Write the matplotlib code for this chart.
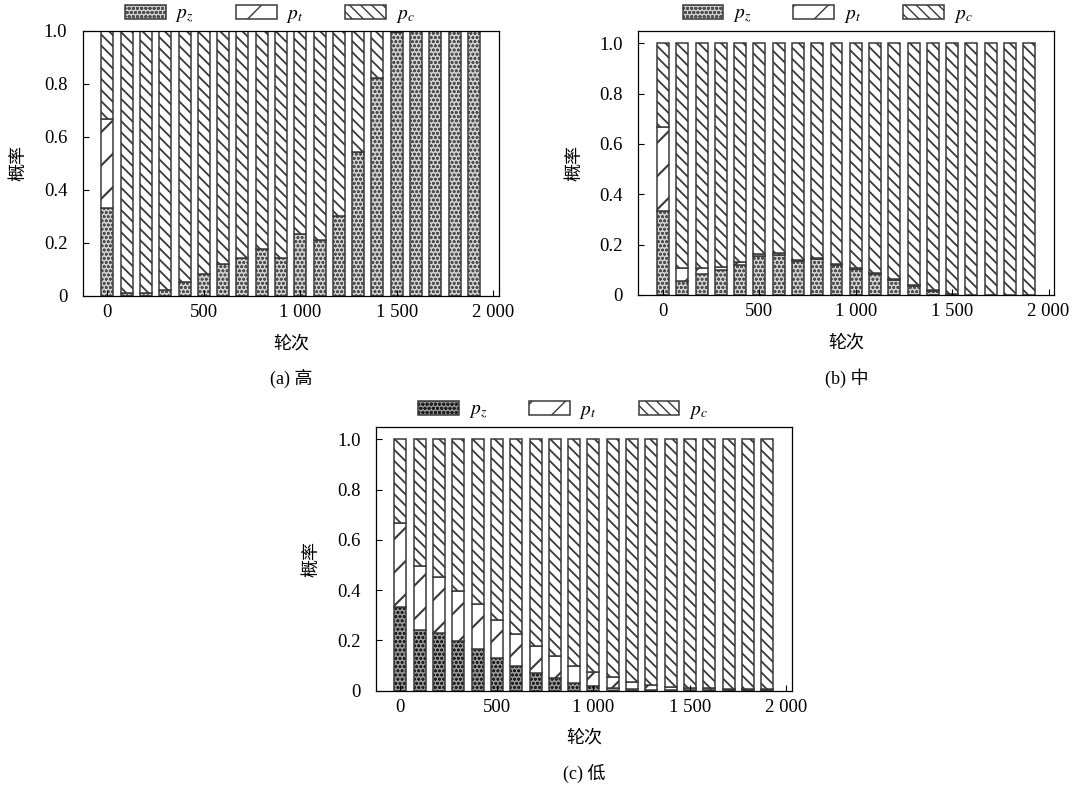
import matplotlib
matplotlib.use("Agg")
import matplotlib.pyplot as plt

# ── Data ──────────────────────────────────────────────────────────────────────
ROUNDS = [0, 100, 200, 300, 400, 500, 600, 700, 800, 900,
          1000, 1100, 1200, 1300, 1400, 1500, 1600, 1700, 1800, 1900]
X_TICKS = [0, 500, 1000, 1500, 2000]
X_TICK_LABELS = ["0", "500", "1 000", "1 500", "2 000"]
Y_TICKS = [0, 0.2, 0.4, 0.6, 0.8, 1.0]
Y_TICK_LABELS = ["0", "0.2", "0.4", "0.6", "0.8", "1.0"]

# (a) 高
PZ_HIGH = [0.333, 0.010, 0.010, 0.022, 0.054, 0.084, 0.120, 0.144, 0.178, 0.144,
           0.234, 0.212, 0.303, 0.543, 0.822, 0.995, 1.000, 1.000, 1.000, 1.000]
PT_HIGH = [0.334, 0.000, 0.000, 0.000, 0.000, 0.000, 0.000, 0.000, 0.000, 0.000,
           0.000, 0.000, 0.000, 0.000, 0.000, 0.000, 0.000, 0.000, 0.000, 0.000]
PC_HIGH = [0.333, 0.990, 0.990, 0.978, 0.946, 0.916, 0.880, 0.856, 0.822, 0.856,
           0.766, 0.788, 0.697, 0.457, 0.178, 0.005, 0.000, 0.000, 0.000, 0.000]

# (b) 中
PZ_MID = [0.333, 0.057, 0.082, 0.100, 0.120, 0.155, 0.160, 0.135, 0.143, 0.118,
          0.104, 0.082, 0.058, 0.036, 0.016, 0.003, 0.000, 0.000, 0.000, 0.000]
PT_MID = [0.334, 0.049, 0.024, 0.010, 0.010, 0.008, 0.005, 0.005, 0.005, 0.004,
          0.004, 0.004, 0.004, 0.004, 0.002, 0.001, 0.000, 0.000, 0.000, 0.000]
PC_MID = [0.333, 0.894, 0.894, 0.890, 0.870, 0.837, 0.835, 0.860, 0.852, 0.878,
          0.892, 0.914, 0.938, 0.960, 0.982, 0.996, 1.000, 1.000, 1.000, 1.000]

# (c) 低
PZ_LOW = [0.333, 0.243, 0.228, 0.196, 0.166, 0.130, 0.097, 0.070, 0.049, 0.032,
          0.020, 0.011, 0.006, 0.004, 0.003, 0.002, 0.002, 0.001, 0.001, 0.001]
PT_LOW = [0.334, 0.252, 0.226, 0.200, 0.179, 0.153, 0.130, 0.107, 0.089, 0.068,
          0.053, 0.042, 0.027, 0.019, 0.013, 0.010, 0.008, 0.007, 0.007, 0.006]
PC_LOW = [0.333, 0.505, 0.546, 0.604, 0.655, 0.717, 0.773, 0.823, 0.862, 0.900,
          0.927, 0.947, 0.967, 0.977, 0.984, 0.988, 0.990, 0.992, 0.992, 0.993]

# ── Style ─────────────────────────────────────────────────────────────────────
plt.rcParams["font.family"] = ["Liberation Serif", "Noto Sans CJK SC"]
plt.rcParams["mathtext.fontset"] = "stix"

EDGE = "#3a3a3a"
BAR_W = 62
BAR_LW = 1.1


def stacked_layer(ax, values, bottom, face, hatch, hatch_color, hatch_lw, label):
    # hatched fill first (hatch takes the patch edge colour), then a dark outline
    with plt.rc_context({"hatch.linewidth": hatch_lw}):
        fill = ax.bar(ROUNDS, values, width=BAR_W, bottom=bottom, color=face,
                      edgecolor=hatch_color, linewidth=0, hatch=hatch)
    outline = ax.bar(ROUNDS, values, width=BAR_W, bottom=bottom, fill=False,
                     edgecolor=EDGE, linewidth=BAR_LW, label=label)
    return (fill, outline)


def draw_panel(fig, rect, pz, pt, pc, ymax, dots, legend_x, caption, cap_y):
    ax = fig.add_axes(rect)
    bottom_pc = [a + b for a, b in zip(pz, pt)]
    dot_face, dot_color = dots

    h_z = stacked_layer(ax, pz, None, dot_face, "oooo", dot_color, 0.8, r"$p_z$")
    h_t = stacked_layer(ax, pt, pz, "white", "/", EDGE, 1.5, r"$p_t$")
    h_c = stacked_layer(ax, pc, bottom_pc, "white", "\\\\\\", EDGE, 1.3, r"$p_c$")

    ax.set_xlim(-128, 2030)
    ax.set_ylim(0, ymax)
    ax.set_xticks(X_TICKS)
    ax.set_xticklabels(X_TICK_LABELS)
    ax.set_yticks(Y_TICKS)
    ax.set_yticklabels(Y_TICK_LABELS)
    ax.tick_params(axis="both", direction="in", length=4, width=0.8,
                   labelsize=13.5)
    ax.tick_params(axis="x", pad=6)
    ax.tick_params(axis="y", pad=11)
    for s in ax.spines.values():
        s.set_linewidth(0.9)

    ax.set_xlabel("轮次", fontsize=13, labelpad=10)
    ax.set_ylabel("概率", fontsize=13, labelpad=12)

    ax.legend([h_z, h_t, h_c], [r"$p_z$", r"$p_t$", r"$p_c$"],
              loc="center", bbox_to_anchor=(legend_x, 1.058), ncol=3,
              frameon=False, fontsize=14, handlelength=2.1, handleheight=0.72,
              handletextpad=0.5, columnspacing=2.15, borderaxespad=0)

    cx = rect[0] + rect[2] / 2
    fig.text(cx, cap_y, caption, ha="center", va="center", fontsize=13)
    return ax


fig = plt.figure(figsize=(10.75, 7.87), dpi=100)

draw_panel(fig, [0.0769, 0.6239, 0.3873, 0.3371], PZ_HIGH, PT_HIGH, PC_HIGH,
           1.0, ("#d2d2d2", "#505050"), 0.45, "(a) 高", 0.5197)
draw_panel(fig, [0.5938, 0.6252, 0.3870, 0.3358], PZ_MID, PT_MID, PC_MID,
           1.05, ("#d2d2d2", "#505050"), 0.455, "(b) 中", 0.5197)
draw_panel(fig, [0.3495, 0.1224, 0.3875, 0.3354], PZ_LOW, PT_LOW, PC_LOW,
           1.05, ("#9a9a9a", "#202020"), 0.45, "(c) 低", 0.0178)

fig.savefig("out.png", dpi=100)
plt.close(fig)
